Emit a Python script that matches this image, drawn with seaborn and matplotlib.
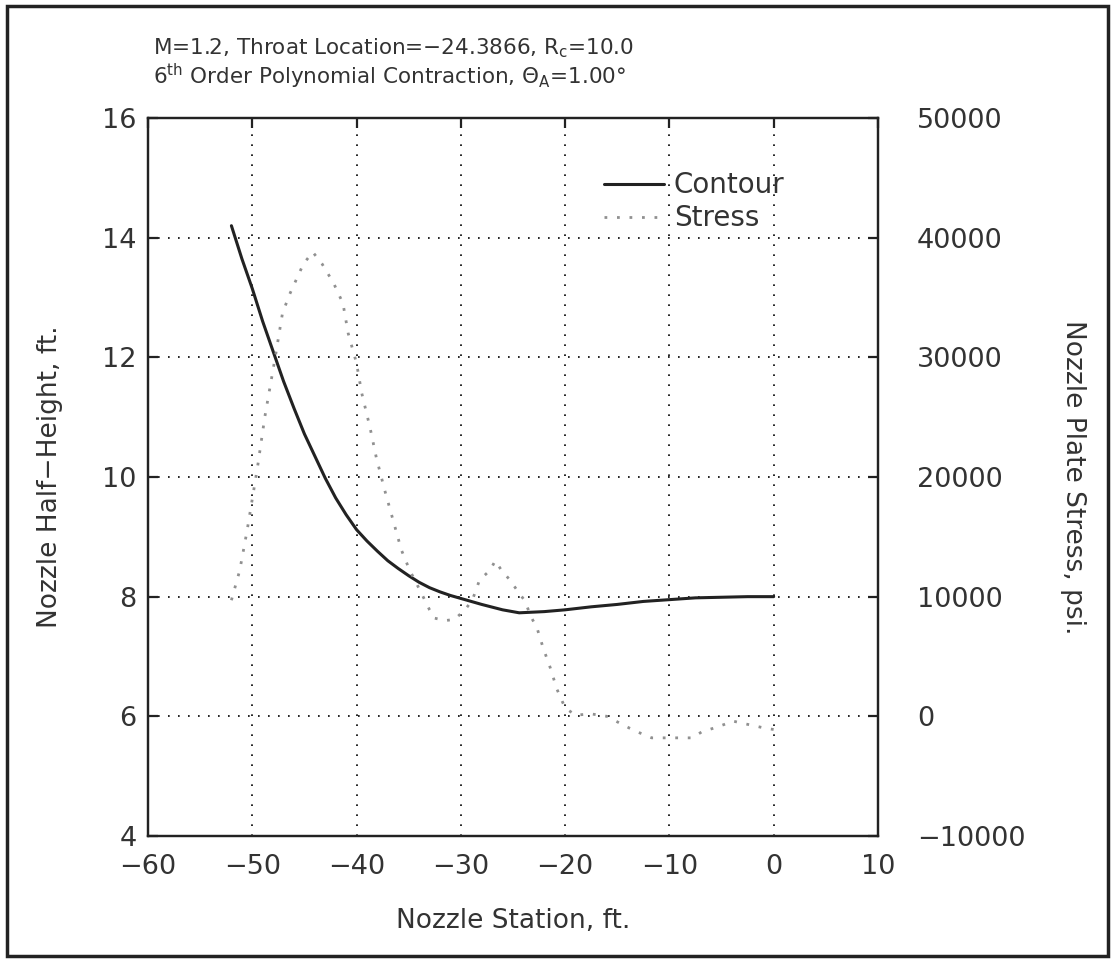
import matplotlib
matplotlib.use("Agg")
import matplotlib.pyplot as plt
import seaborn as sns
import pandas as pd
from matplotlib.patches import Rectangle

# ---- data ----
station_contour = [-52, -51, -50, -49, -48, -47, -46, -45, -44, -43, -42, -41, -40, -39, -38, -37,
                   -36, -35, -34, -33, -32, -31, -30, -28, -26, -24.4, -22, -20, -17.5, -15,
                   -12.5, -10, -7.5, -5, -2.5, 0]
half_height = [14.2, 13.65, 13.15, 12.6, 12.1, 11.6, 11.15, 10.72, 10.35, 9.98, 9.65, 9.37, 9.12,
               8.93, 8.76, 8.6, 8.47, 8.35, 8.24, 8.15, 8.08, 8.02, 7.97, 7.87, 7.78, 7.73, 7.75,
               7.78, 7.83, 7.87, 7.92, 7.95, 7.98, 7.99, 8.0, 8.0]

station_stress = [-52, -51.2, -50.5, -49.5, -48.8, -47.8, -47.1, -46.4, -45.1, -44.2, -43.3, -42.2,
                  -41.3, -40.8, -40.0, -39.5, -38.7, -38.1, -37.3, -36.5, -35.7, -34.9, -33.9, -33.0,
                  -32.5, -31.5, -30.6, -29.6, -28.9, -28.2, -27.2, -26.7, -26.1, -25.3, -24.5, -23.9,
                  -23.2, -22.7, -22.1, -21.4, -20.8, -20.0, -19.0, -17.5, -16.0, -14.7, -13.8, -12.8,
                  -11.7, -10.7, -9.8, -8.8, -7.8, -6.9, -5.8, -4.8, -3.9, -2.9, -1.8, -0.8, 0]
stress = [9700, 12200, 15500, 20800, 25000, 30000, 33700, 35300, 37800, 38800, 37800, 36200,
          34500, 32000, 29500, 27000, 24100, 21600, 18900, 16400, 13900, 12200, 10500, 8900,
          8200, 8000, 8100, 8900, 9700, 11400, 12200, 13000, 12200, 11400, 10400, 9700,
          8200, 7400, 5700, 4000, 2300, 700, 100, 200, 0, -600, -1000, -1400,
          -1800, -1800, -1800, -1800, -1800, -1300, -1000, -700, -400, -600, -800, -1000, -1100]

x_ticks = [-60, -50, -40, -30, -20, -10, 0, 10]
y_ticks = [4, 6, 8, 10, 12, 14, 16]
stress_ticks = [-10000, 0, 10000, 20000, 30000, 40000, 50000]

title_line1 = r"M=1.2, Throat Location=$-$24.3866, R$_\mathregular{c}$=10.0"
title_line2 = r"6$^\mathregular{th}$ Order Polynomial Contraction, $\Theta_\mathregular{A}$=1.00$\degree$"

# ---- style ----
sns.set_style("white")
plt.rcParams['font.family'] = ['DejaVu Sans']
plt.rcParams['mathtext.fontset'] = 'dejavusans'

TXT = "#333333"
df_c = pd.DataFrame({"station": station_contour, "h": half_height})
df_s = pd.DataFrame({"station": station_stress, "s": stress})

fig = plt.figure(figsize=(11.16, 9.61), dpi=100)
ax = fig.add_axes([0.1326, 0.1301, 0.6541, 0.7471])
ax2 = ax.twinx()

sns.lineplot(data=df_c, x="station", y="h", ax=ax, color="#222222", lw=2.2,
             estimator=None, label="Contour", legend=False, zorder=5)
sns.lineplot(data=df_s, x="station", y="s", ax=ax2, color="#909090", lw=2.0,
             estimator=None, label="Stress", legend=False, linestyle=(0, (1, 3.5)))

ax.set_xlim(-60, 10)
ax.set_ylim(4, 16)
ax2.set_ylim(-10000, 50000)
ax.set_xticks(x_ticks)
ax.set_yticks(y_ticks)
ax2.set_yticks(stress_ticks)
ax.set_xticklabels([str(v).replace('-', '\u2212') for v in x_ticks])
ax.set_yticklabels([str(v) for v in y_ticks])
ax2.set_yticklabels([str(v).replace('-', '\u2212') for v in stress_ticks])

ax.grid(True, color="black", linestyle=(0, (1, 5)), lw=1.2)
ax.set_axisbelow(True)

for a in (ax, ax2):
    for sp in a.spines.values():
        sp.set_color("#222222")
        sp.set_linewidth(1.6)

ax.tick_params(axis='both', direction='in', length=7, width=1.6, labelsize=19.5,
               top=True, colors="#222222", labelcolor=TXT)
ax.tick_params(axis='x', pad=13)
ax.tick_params(axis='y', pad=8)
ax2.tick_params(axis='y', direction='in', length=7, width=1.6, labelsize=19.5, pad=28,
                colors="#222222", labelcolor=TXT)

ax.set_xlabel("Nozzle Station, ft.", fontsize=19, color=TXT, labelpad=20)
ax.set_ylabel("Nozzle Half\u2212Height, ft.", fontsize=19, color=TXT)
ax2.set_ylabel("Nozzle Plate Stress, psi.", fontsize=19, color=TXT,
               rotation=-90, va="bottom")
ax2.yaxis.set_label_coords(1.249, 0.5)
ax.yaxis.set_label_coords(-0.116, 0.5)

h1, l1 = ax.get_legend_handles_labels()
h2, l2 = ax2.get_legend_handles_labels()
leg = ax2.legend(h1 + h2, l1 + l2, loc='upper left', bbox_to_anchor=(0.606, 0.945),
                 frameon=False, fontsize=20, handlelength=2.15, handletextpad=0.35,
                 borderpad=0, labelspacing=0.18)
for t in leg.get_texts():
    t.set_color(TXT)

fig.text(0.137, 0.9435, title_line1, fontsize=15.5, color=TXT, ha='left', va='baseline')
fig.text(0.137, 0.9125, title_line2, fontsize=15.5, color=TXT, ha='left', va='baseline')

fig.patches.append(Rectangle((0.006, 0.005), 0.987, 0.989, transform=fig.transFigure,
                             fill=False, edgecolor="#222222", lw=2.5))

fig.savefig("out.png", dpi=100)
